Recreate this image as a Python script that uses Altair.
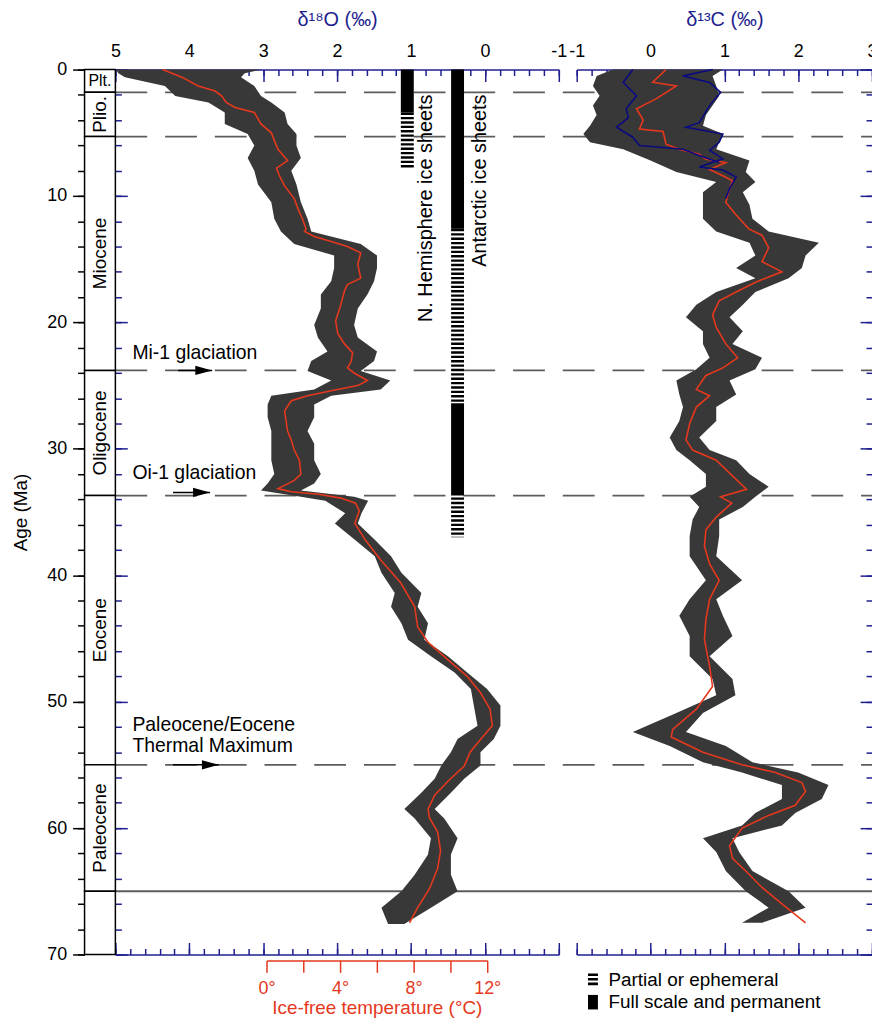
import altair as alt
import pandas as pd

FONT = "Liberation Sans"
RED = "#e5381d"
BLUE = "#1f1f8f"
CLOUD = "#383838"
GREY = "#5c5c5c"

# ---------------- data ----------------
# d18O smoothed curve
o_age = [0.0, 0.6, 1.3, 1.7, 2.1, 2.6, 3.0, 3.4, 4.3, 5.0, 5.6, 6.3, 7.2, 7.8, 8.4, 9.2,
         10.2, 11.0, 11.8, 12.6, 12.8, 13.2, 13.6, 14.0, 14.5, 15.4, 16.5, 17.0, 17.5, 18.6,
         19.9, 20.9, 21.7, 22.4, 23.1, 23.6, 24.0, 24.6, 25.0, 25.4, 25.8, 26.2, 27.0, 27.8,
         28.6, 29.3, 30.1, 30.9, 32.0, 32.5, 33.15, 33.4, 33.6, 33.9, 34.3, 34.9, 35.9, 37.2,
         38.8, 40.6, 42.5, 44.1, 45.3, 46.7, 48.0, 49.3, 50.6, 51.9, 53.0, 54.0, 55.1, 56.3,
         57.4, 58.5, 59.2, 60.3, 61.8, 63.2, 64.8, 66.3, 67.5]
o_val = [4.36, 4.10, 3.88, 3.65, 3.56, 3.50, 3.38, 3.12, 3.03, 2.89, 2.85, 2.80, 2.67, 2.82, 2.78, 2.71,
         2.58, 2.53, 2.47, 2.42, 2.44, 2.31, 2.08, 1.86, 1.68, 1.72, 1.68, 1.86, 1.90, 1.95,
         2.02, 1.99, 1.90, 1.79, 1.81, 1.86, 1.77, 1.59, 1.72, 2.08, 2.40, 2.62, 2.71, 2.69,
         2.67, 2.62, 2.58, 2.51, 2.49, 2.58, 2.80, 2.62, 2.25, 1.95, 1.75, 1.70, 1.76, 1.62,
         1.41, 1.14, 0.95, 0.91, 0.77, 0.50, 0.24, 0.06, -0.07, -0.10, 0.06, 0.20, 0.28, 0.50,
         0.68, 0.77, 0.75, 0.64, 0.60, 0.64, 0.75, 0.91, 1.02]

# d18O scatter cloud (left / right edges)
ob_age = [0.0, 0.3, 0.6, 1.3, 2.1, 2.6, 3.4, 4.3, 5.1, 6.0, 7.0, 8.0, 9.1, 10.5, 11.8, 12.8,
          13.8, 14.7, 15.7, 16.75, 17.8, 18.9, 20.2, 21.2, 22.3, 23.05, 23.85, 24.6, 25.3,
          25.8, 26.5, 27.5, 28.6, 29.6, 30.9, 32.0, 32.75, 33.3, 33.8, 34.1, 35.1, 35.9, 37.2,
          38.5, 39.8, 41.4, 42.5, 43.8, 45.1, 46.4, 47.7, 49.0, 50.3, 51.9, 52.95, 54.0, 55.05,
          56.1, 57.2, 58.5, 59.25, 60.8, 62.1, 63.7, 65.0, 66.3, 67.6]
ob_hi = [4.99, 4.96, 4.87, 4.33, 4.19, 3.74, 3.52, 3.52, 3.21, 3.12, 3.21, 3.12, 3.07, 2.89, 2.85, 2.76,
         2.58, 2.04, 2.04, 2.08, 2.22, 2.22, 2.31, 2.26, 2.13, 2.35, 2.40, 2.08, 2.31,
         2.89, 2.94, 2.94, 2.89, 2.89, 2.89, 2.85, 2.94, 3.03, 2.49, 2.16, 1.89, 2.03, 1.76,
         1.49, 1.40, 1.22, 1.27, 1.13, 1.04, 0.73, 0.41, 0.19, 0.15, 0.10, 0.37, 0.46, 0.59,
         0.68, 0.86, 1.09, 0.95, 0.73, 0.77, 0.95, 1.13, 1.40, 1.31]
ob_lo = [3.02, 3.25, 3.30, 3.12, 3.03, 2.89, 2.71, 2.67, 2.55, 2.55, 2.49, 2.62, 2.55, 2.49, 2.40, 2.35,
         1.68, 1.46, 1.46, 1.50, 1.59, 1.72, 1.77, 1.72, 1.46, 1.50, 1.68, 1.28, 1.41,
         2.08, 2.31, 2.31, 2.40, 2.31, 2.31, 2.22, 2.31, 2.49, 1.77, 1.58, 1.67, 1.72, 1.49,
         1.27, 1.13, 0.86, 0.91, 0.77, 0.82, 0.50, 0.24, -0.03, -0.21, -0.21, -0.12, 0.06, 0.06,
         0.28, 0.46, 0.68, 0.55, 0.37, 0.46, 0.46, 0.37, 0.73, 1.09]

# d13C smoothed curve
c_age = [0.0, 1.0, 1.3, 2.3, 3.1, 4.0, 4.7, 4.9, 5.9, 6.3, 6.7, 7.1, 7.35, 7.9, 8.4, 8.8, 9.4,
         10.5, 11.5, 12.6, 13.1, 14.1, 15.2, 16.0, 16.8, 17.6, 18.3, 19.4, 20.4, 21.7, 22.8,
         23.6, 24.2, 25.3, 25.8, 26.7, 28.0, 29.3, 30.1, 30.9, 32.2, 33.2, 33.8, 34.3, 35.4,
         36.4, 37.7, 39.1, 40.4, 41.9, 43.5, 45.1, 47.2, 48.8, 50.6, 52.2, 52.8, 54.0, 55.0,
         55.6, 56.4, 57.1, 58.2, 59.0, 60.0, 61.4, 62.4, 63.4, 64.7, 66.0, 67.5]
c_val = [0.21, 0.03, 0.35, 0.08, -0.19, -0.10, -0.15, 0.17, 0.21, 0.39, 0.66, 0.75, 1.02, 0.80, 0.98, 1.11, 1.07,
         1.02, 1.16, 1.33, 1.51, 1.60, 1.51, 1.78, 1.43, 1.16, 0.93, 0.84, 0.89, 1.02, 1.18,
         0.98, 0.75, 0.62, 0.80, 0.62, 0.53, 0.48, 0.57, 0.89, 1.12, 1.30, 0.95, 1.10, 0.89,
         0.75, 0.73, 0.80, 0.93, 0.80, 0.75, 0.73, 0.80, 0.84, 0.62, 0.30, 0.28, 0.71, 1.24,
         1.69, 2.05, 2.10, 1.96, 1.60, 1.24, 1.07, 1.11, 1.29, 1.51, 1.78, 2.10]

# d13C scatter cloud (left / right edges)
cb_age = [0.0, 0.5, 1.3, 2.07, 2.85, 3.6, 4.45, 5.1, 5.75, 6.3, 7.2, 8.1, 8.9, 9.7, 10.7, 11.8,
          12.8, 13.7, 14.7, 15.7, 16.5, 17.6, 18.6, 19.6, 20.7, 21.7, 22.8, 23.7, 24.6, 25.7,
          26.7, 27.8, 29.1, 30.1, 30.9, 32.0, 33.0, 33.8, 34.6, 35.6, 36.9, 38.5, 40.4, 41.9,
          43.2, 44.8, 46.4, 48.2, 49.5, 50.9, 52.4, 53.5, 54.8, 55.6, 56.6, 57.7, 58.8, 59.8,
          60.8, 61.9, 63.4, 65.0, 66.3, 67.5]
cb_lo = [-0.51, -0.73, -0.78, -0.69, -0.78, -0.73, -0.82, -0.91, -0.82, -0.37, 0.0, 0.35, 0.89, 0.71, 0.71, 0.71,
         0.89, 1.34, 1.42, 1.16, 1.42, 0.89, 0.62, 0.48, 0.71, 0.71, 0.80, 0.62, 0.35, 0.39,
         0.44, 0.39, 0.26, 0.35, 0.53, 0.75, 0.75, 0.53, 0.66, 0.57, 0.53, 0.53, 0.75, 0.53,
         0.39, 0.53, 0.53, 0.84, 0.89, 0.35, -0.24, 0.26, 0.71, 1.24, 1.78, 1.78, 1.42, 1.24,
         0.71, 0.89, 1.02, 1.29, 1.60, 1.24]
cb_hi = [0.98, 0.84, 0.89, 0.93, 0.84, 0.75, 0.71, 0.98, 0.93, 0.89, 1.34, 1.29, 1.42, 1.25, 1.34, 1.38,
         1.60, 2.28, 2.10, 2.05, 1.87, 1.42, 1.25, 1.07, 1.25, 1.11, 1.51, 1.42, 1.07, 1.16,
         0.89, 0.89, 0.66, 0.80, 1.16, 1.34, 1.60, 1.42, 1.25, 0.93, 0.93, 0.89, 1.24, 0.89,
         0.98, 1.11, 0.80, 1.11, 1.15, 0.71, 0.48, 1.02, 1.38, 2.00, 2.41, 2.32, 1.96, 1.78,
         1.11, 1.20, 1.38, 1.87, 2.10, 1.51]

# d13C blue outlines (0-10 Ma)
bl_age = [0.0, 1.02, 2.07, 3.1, 3.8, 4.56, 5.35, 6.0, 6.3, 6.8, 7.35]
bl_val = [-0.24, -0.37, -0.19, -0.33, -0.30, -0.46, -0.24, -0.15, 0.44, 0.66, 0.93]
br_age = [0.0, 0.5, 1.02, 1.8, 2.85, 4.2, 4.56, 5.1, 5.75, 6.4, 7.05, 7.7, 7.95, 8.5, 9.4, 10.2]
br_val = [0.84, 0.44, 0.80, 0.95, 0.80, 0.66, 0.48, 0.98, 0.93, 0.80, 0.98, 0.66, 0.98, 1.16, 1.07, 1.02]

# epochs
ep_name = ["Plt.", "Plio.", "Miocene", "Oligocene", "Eocene", "Paleocene", ""]
ep_start = [0.0, 1.8, 5.3, 23.8, 33.7, 55.0, 65.0]
ep_end = [1.8, 5.3, 23.8, 33.7, 55.0, 65.0, 70.0]

# event lines
ev_age = [1.8, 5.3, 23.8, 33.7, 55.0]
kpg_age = [65.0]

# ice sheets
ice_sheet = ["N", "N", "A", "A", "A", "A"]
ice_start = [0.0, 3.4, 0.0, 12.6, 26.4, 33.5]
ice_end = [3.4, 7.9, 12.6, 26.4, 33.5, 37.0]
ice_full = [True, False, True, False, True, False]

# annotations
ann_text = ["Mi-1 glaciation", "Oi-1 glaciation", "Paleocene/Eocene", "Thermal Maximum"]
ann_age = [22.4, 31.95, 51.85, 53.55]
arr_age = [23.8, 33.45, 55.0]
arr_from = [4.15, 4.22, 4.22]
arr_tip = [3.69, 3.72, 3.60]

leg_text = ["Partial or ephemeral", "Full scale and permanent"]

# axis tick values
o_major = [5, 4, 3, 2, 1, 0, -1]
o_minor = [round(5 - 0.2 * i, 1) for i in range(31)]
c_major = [-1, 0, 1, 2, 3]
c_minor = [round(-1 + 0.2 * i, 1) for i in range(21)]
age_major = list(range(0, 71, 10))
age_minor = list(range(0, 71, 2))
temp_ticks = [0, 2, 4, 6, 8, 10, 12]

# ---------------- scales ----------------
W, H = 792, 890
ys = alt.Scale(domain=[0, 70], reverse=True, nice=False, zero=False)
sx_o = alt.Scale(domain=[5, -1], range=[31, 477], nice=False, zero=False)
sx_c = alt.Scale(domain=[-1, 3], range=[495, 792], nice=False, zero=False)
sx_col = alt.Scale(domain=[0, 1], range=[0, 31], nice=False, zero=False)
sx_fb = alt.Scale(domain=[0, 1], range=[31, 792], nice=False, zero=False)
sx_fa = alt.Scale(domain=[0, 1], range=[0, 792], nice=False, zero=False)
sx_t = alt.Scale(domain=[0, 12], range=[183, 405], nice=False, zero=False)


def Y(f):
    return alt.Y(f, scale=ys, axis=None)


def X(f, s):
    return alt.X(f, scale=s, axis=None)


def tick_axis(orient, size, color, values):
    return alt.Axis(orient=orient, offset=-size, tickSize=size, tickColor=color, tickWidth=1.5,
                    labels=False, domain=False, grid=False, title="", values=values)


def xcar(scale, vals, axis):
    return alt.Chart(pd.DataFrame({"v": vals})).mark_point(opacity=0).encode(
        x=alt.X("v:Q", scale=scale, axis=axis), y=alt.value(0))


def ycar(vals, axis):
    return alt.Chart(pd.DataFrame({"v": vals})).mark_point(opacity=0).encode(
        y=alt.Y("v:Q", scale=ys, axis=axis), x=alt.value(0))


layers = []

# event dashed lines and K/Pg line
ev_df = pd.DataFrame({"age": ev_age, "a": 0, "b": 1})
layers.append(alt.Chart(ev_df).mark_rule(color=GREY, strokeWidth=1.8, strokeDash=[32, 18]).encode(
    x=X("a:Q", sx_fb), x2="b:Q", y=Y("age:Q")))
kpg_df = pd.DataFrame({"age": kpg_age, "a": 0, "b": 1})
layers.append(alt.Chart(kpg_df).mark_rule(color=GREY, strokeWidth=1.8).encode(
    x=X("a:Q", sx_fa), x2="b:Q", y=Y("age:Q")))

# epoch column
ep_df = pd.DataFrame({"name": ep_name, "start": ep_start, "end": ep_end})
ep_df["mid"] = (ep_df["start"] + ep_df["end"]) / 2
ep_df["a"] = 0
ep_df["b"] = 1
ep_df["c"] = 0.5
layers.append(alt.Chart(ep_df).mark_rect(fill="white", stroke="black", strokeWidth=1.5).encode(
    x=X("a:Q", sx_col), x2="b:Q", y=Y("start:Q"), y2="end:Q"))
rot = ep_df[(ep_df["name"] != "Plt.") & (ep_df["name"] != "")]
layers.append(alt.Chart(rot).mark_text(angle=270, font=FONT, fontSize=19, align="center",
                                       baseline="middle", color="black").encode(
    x=X("c:Q", sx_col), y=Y("mid:Q"), text="name:N"))
hor = ep_df[ep_df["name"] == "Plt."]
layers.append(alt.Chart(hor).mark_text(font=FONT, fontSize=16, align="center",
                                       baseline="middle", color="black").encode(
    x=X("c:Q", sx_col), y=Y("mid:Q"), text="name:N"))

# d18O cloud and curve
ob_df = pd.DataFrame({"age": ob_age, "hi": ob_hi, "lo": ob_lo})
layers.append(alt.Chart(ob_df).mark_area(orient="horizontal", color=CLOUD).encode(
    y=Y("age:Q"), x=X("hi:Q", sx_o), x2="lo:Q"))
o_df = pd.DataFrame({"age": o_age, "v": o_val})
layers.append(alt.Chart(o_df).mark_line(color=RED, strokeWidth=1.6).encode(
    x=X("v:Q", sx_o), y=Y("age:Q"), order="age:Q"))

# d13C cloud and curves
cb_df = pd.DataFrame({"age": cb_age, "lo": cb_lo, "hi": cb_hi})
layers.append(alt.Chart(cb_df).mark_area(orient="horizontal", color=CLOUD).encode(
    y=Y("age:Q"), x=X("lo:Q", sx_c), x2="hi:Q"))
c_df = pd.DataFrame({"age": c_age, "v": c_val})
layers.append(alt.Chart(c_df).mark_line(color=RED, strokeWidth=1.6).encode(
    x=X("v:Q", sx_c), y=Y("age:Q"), order="age:Q"))
bl_df = pd.DataFrame({"age": bl_age, "v": bl_val})
layers.append(alt.Chart(bl_df).mark_line(color="#0a0a80", strokeWidth=1.6).encode(
    x=X("v:Q", sx_c), y=Y("age:Q"), order="age:Q"))
br_df = pd.DataFrame({"age": br_age, "v": br_val})
layers.append(alt.Chart(br_df).mark_line(color="#0a0a80", strokeWidth=1.6).encode(
    x=X("v:Q", sx_c), y=Y("age:Q"), order="age:Q"))

# ice sheet bars
ice_df = pd.DataFrame({"sheet": ice_sheet, "start": ice_start, "end": ice_end, "full": ice_full})
ice_df["pos"] = ice_df["sheet"].map({"N": 1.05, "A": 0.37})
layers.append(alt.Chart(ice_df[ice_df["full"]]).mark_rule(color="black", strokeWidth=13,
                                                          strokeCap="butt").encode(
    x=X("pos:Q", sx_o), y=Y("start:Q"), y2="end:Q"))
layers.append(alt.Chart(ice_df[~ice_df["full"]]).mark_rule(color="black", strokeWidth=13,
                                                           strokeCap="butt",
                                                           strokeDash=[2.4, 2.0]).encode(
    x=X("pos:Q", sx_o), y=Y("start:Q"), y2="end:Q"))
ice_lab = pd.DataFrame({"t": ["N. Hemisphere ice sheets", "Antarctic ice sheets"],
                        "x": [0.80, 0.07], "age": [1.97, 1.97]})
layers.append(alt.Chart(ice_lab).mark_text(angle=270, align="right", baseline="middle",
                                           font=FONT, fontSize=20, color="black").encode(
    x=X("x:Q", sx_o), y=Y("age:Q"), text="t:N"))

# annotations
ann_df = pd.DataFrame({"t": ann_text, "age": ann_age, "x": 4.77})
layers.append(alt.Chart(ann_df).mark_text(align="left", baseline="middle", font=FONT,
                                          fontSize=19.5, color="black").encode(
    x=X("x:Q", sx_o), y=Y("age:Q"), text="t:N"))
arr_df = pd.DataFrame({"age": arr_age, "x0": arr_from, "x1": arr_tip})
layers.append(alt.Chart(arr_df).mark_rule(color="black", strokeWidth=1.5).encode(
    x=X("x0:Q", sx_o), x2="x1:Q", y=Y("age:Q")))
layers.append(alt.Chart(arr_df).mark_point(shape="M0,0L-2,-0.55L-2,0.55Z", size=289, filled=True,
                                           color="black", opacity=1).encode(
    x=X("x1:Q", sx_o), y=Y("age:Q")))

# legend
leg_df = pd.DataFrame({"t": leg_text, "age": [72.0, 73.8], "x": -0.57})
layers.append(alt.Chart(leg_df).mark_text(align="left", baseline="middle", font=FONT,
                                          fontSize=19, color="black").encode(
    x=X("x:Q", sx_c), y=Y("age:Q"), text="t:N"))
leg_ic = pd.DataFrame({"s": [71.5, 73.2], "e": [72.6, 74.35], "x": -0.78})
layers.append(alt.Chart(leg_ic.iloc[[0]]).mark_rule(color="black", strokeWidth=10, strokeCap="butt",
                                                    strokeDash=[2.6, 2.0]).encode(
    x=X("x:Q", sx_c), y=Y("s:Q"), y2="e:Q"))
layers.append(alt.Chart(leg_ic.iloc[[1]]).mark_rule(color="black", strokeWidth=10, strokeCap="butt").encode(
    x=X("x:Q", sx_c), y=Y("s:Q"), y2="e:Q"))

# ---------------- axes ----------------
neg_lab = "datum.value < 0 ? '-' + (-datum.value) : '' + datum.value"
layers.append(xcar(sx_o, o_major, alt.Axis(
    orient="top", values=o_major, ticks=False, tickSize=0, domain=True, domainColor=BLUE,
    domainWidth=1.5, labelFontSize=18, labelColor="black", labelPadding=9, labelExpr=neg_lab,
    labelFlush=False, labelOverlap=False, grid=False, title="δ¹⁸O (‰)", titleColor=BLUE,
    titleFontSize=20, titleFontWeight="normal", titlePadding=13)))
layers.append(xcar(sx_o, o_major, tick_axis("top", 12, BLUE, o_major)))
layers.append(xcar(sx_o, o_minor, tick_axis("top", 6, BLUE, o_minor)))
layers.append(xcar(sx_o, o_major, alt.Axis(orient="bottom", ticks=False, tickSize=0, labels=False,
                                           domain=True, domainColor=BLUE, domainWidth=1.5,
                                           grid=False, title="")))
layers.append(xcar(sx_o, o_major, tick_axis("bottom", 12, BLUE, o_major)))
layers.append(xcar(sx_o, o_minor, tick_axis("bottom", 6, BLUE, o_minor)))

layers.append(xcar(sx_c, c_major, alt.Axis(
    orient="top", values=c_major, ticks=False, tickSize=0, domain=True, domainColor=BLUE,
    domainWidth=1.5, labelFontSize=18, labelColor="black", labelPadding=9, labelExpr=neg_lab,
    labelFlush=False, labelOverlap=False, grid=False, title="δ¹³C (‰)", titleColor=BLUE,
    titleFontSize=20, titleFontWeight="normal", titlePadding=13)))
layers.append(xcar(sx_c, c_major, tick_axis("top", 12, BLUE, c_major)))
layers.append(xcar(sx_c, c_minor, tick_axis("top", 6, BLUE, c_minor)))
layers.append(xcar(sx_c, c_major, alt.Axis(orient="bottom", ticks=False, tickSize=0, labels=False,
                                           domain=True, domainColor=BLUE, domainWidth=1.5,
                                           grid=False, title="")))
layers.append(xcar(sx_c, c_major, tick_axis("bottom", 12, BLUE, c_major)))
layers.append(xcar(sx_c, c_minor, tick_axis("bottom", 6, BLUE, c_minor)))

layers.append(xcar(sx_t, temp_ticks, alt.Axis(
    orient="bottom", offset=6, values=temp_ticks, tickSize=12, tickColor=RED, tickWidth=1.5,
    domain=True, domainColor=RED, domainWidth=1.5, labelColor=RED, labelFontSize=18,
    labelPadding=7, labelExpr="datum.value % 4 === 0 ? datum.value + '°' : ''",
    labelFlush=False, labelOverlap=False, grid=False, title="Ice-free temperature (°C)",
    titleColor=RED, titleFontSize=19, titleFontWeight="normal", titlePadding=1)))

layers.append(ycar(age_major, alt.Axis(
    orient="left", values=age_major, tickSize=12, tickColor="black", tickWidth=1.5,
    domain=True, domainColor="black", domainWidth=1.5, labelFontSize=18, labelColor="black",
    labelPadding=6, labelOverlap=False, labelFlush=False, grid=False, title="Age (Ma)",
    titleFontSize=19, titleFontWeight="normal", titleColor="black", titlePadding=16)))
layers.append(ycar(age_minor, alt.Axis(orient="left", values=age_minor, tickSize=7,
                                       tickColor="black", tickWidth=1.5, labels=False,
                                       domain=False, grid=False, title="")))
inner_major = alt.Axis(orient="left", offset=-43, tickSize=12, tickColor=BLUE, tickWidth=1.5,
                       labels=False, domain=False, grid=False, title="", values=age_major)
inner_minor = alt.Axis(orient="left", offset=-37, tickSize=6, tickColor=BLUE, tickWidth=1.5,
                       labels=False, domain=False, grid=False, title="", values=age_minor)
layers.append(ycar(age_major, inner_major))
layers.append(ycar(age_minor, inner_minor))
layers.append(ycar(age_major, tick_axis("right", 12, BLUE, age_major)))
layers.append(ycar(age_minor, tick_axis("right", 6, BLUE, age_minor)))

chart = alt.layer(*layers).resolve_scale(x="independent").resolve_axis(
    x="independent", y="independent").properties(
    width=W, height=H,
    autosize=alt.AutoSizeParams(type="none"),
    padding={"left": 77, "top": 59, "right": 0, "bottom": 65},
).configure_view(stroke=None).configure_axis(labelFont=FONT, titleFont=FONT)

chart.save("out.html", embed_options={"renderer": "svg", "actions": False})
